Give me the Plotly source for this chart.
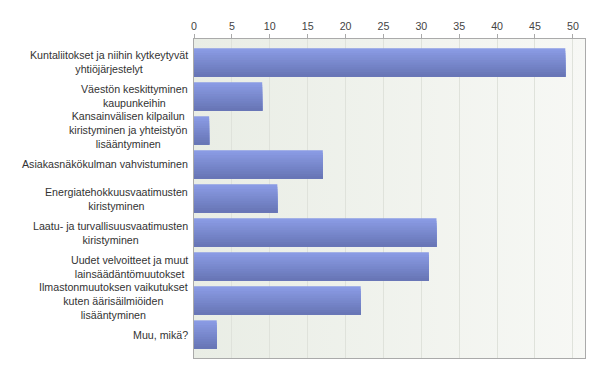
import base64
import plotly.graph_objects as go

categories = [
    "Kuntaliitokset ja niihin kytkeytyvät<br>yhtiöjärjestelyt",
    "Väestön keskittyminen<br>kaupunkeihin",
    "Kansainvälisen kilpailun<br>kiristyminen ja yhteistyön<br>lisääntyminen",
    "Asiakasnäkökulman vahvistuminen",
    "Energiatehokkuusvaatimusten<br>kiristyminen",
    "Laatu- ja turvallisuusvaatimusten<br>kiristyminen",
    "Uudet velvoitteet ja muut<br>lainsäädäntömuutokset",
    "Ilmastonmuutoksen vaikutukset<br>kuten äärisäilmiöiden<br>lisääntyminen",
    "Muu, mikä?",
]
values = [49, 9, 2, 17, 11, 32, 31, 22, 3]
x_ticks = [0, 5, 10, 15, 20, 25, 30, 35, 40, 45, 50]

positions = list(range(len(categories)))
bar_h = 0.835
n_strips = 12
top_rgb = (138, 155, 228)
bot_rgb = (104, 118, 182)

fig = go.Figure()
for i in range(n_strips):
    t = i / (n_strips - 1)
    c = tuple(round(top_rgb[k] + (bot_rgb[k] - top_rgb[k]) * t) for k in range(3))
    start = i * bar_h / n_strips
    fig.add_trace(go.Bar(
        x=values, y=positions, orientation="h",
        width=bar_h - start,
        offset=-bar_h / 2 + start,
        marker=dict(color="rgb(%d,%d,%d)" % c, line=dict(width=0)),
        showlegend=False, hoverinfo="skip",
    ))

svg = ("<svg xmlns='http://www.w3.org/2000/svg' width='100' height='10' preserveAspectRatio='none'>"
       "<defs><linearGradient id='g' x1='0' y1='0' x2='1' y2='0'>"
       "<stop offset='0' stop-color='rgb(233,237,229)'/>"
       "<stop offset='1' stop-color='rgb(247,248,245)'/>"
       "</linearGradient></defs><rect width='100' height='10' fill='url(#g)'/></svg>")
src = "data:image/svg+xml;base64," + base64.b64encode(svg.encode()).decode()

font_family = "Arial, Liberation Sans, sans-serif"
annotations = [
    dict(text=cat, x=-0.009, y=p, xref="paper", yref="y", xanchor="right",
         yanchor="middle", align="center", showarrow=False,
         font=dict(family=font_family, size=10.67, color="#333333"))
    for cat, p in zip(categories, positions)
]

fig.update_layout(
    width=600, height=373,
    margin=dict(l=186, r=23, t=24, b=23),
    barmode="overlay",
    paper_bgcolor="white",
    plot_bgcolor="rgba(0,0,0,0)",
    images=[dict(source=src, xref="paper", yref="paper", x=0, y=1, sizex=1, sizey=1,
                 sizing="stretch", layer="below", xanchor="left", yanchor="top")],
    annotations=annotations,
    xaxis=dict(
        side="top", range=[0, 51.6], tickvals=x_ticks, ticktext=[str(v) for v in x_ticks],
        showgrid=True, gridcolor="#dfe2db", gridwidth=1,
        showline=True, linecolor="#aaaaaa", linewidth=1, mirror=True,
        ticks="outside", ticklen=4, tickcolor="#aaaaaa",
        tickfont=dict(family=font_family, size=10.67, color="#444444"),
        zeroline=False,
    ),
    yaxis=dict(
        range=[len(categories) - 0.5 + 0.19, -0.69], showticklabels=False,
        showgrid=False, zeroline=False,
        showline=True, linecolor="#aaaaaa", linewidth=1, mirror=True, ticks="",
    ),
)

fig.write_html("out.html")
